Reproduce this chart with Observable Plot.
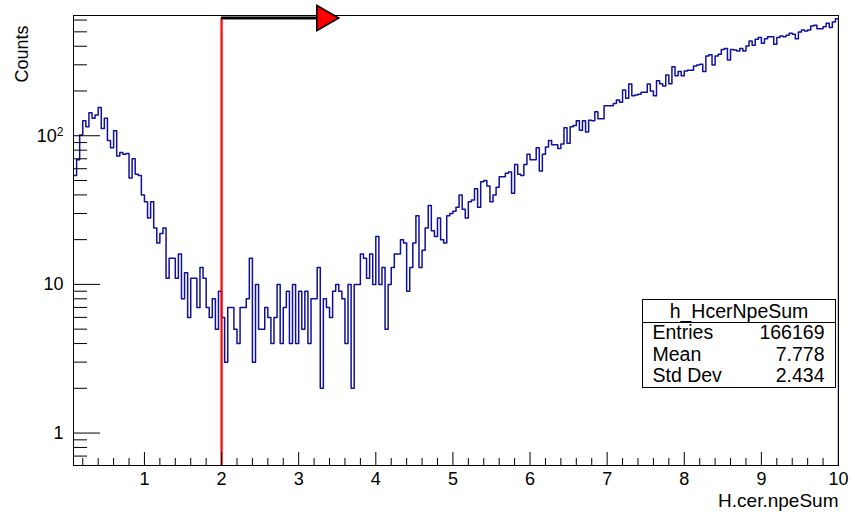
<!DOCTYPE html>
<html>
<head>
<meta charset="utf-8">
<script src="https://cdn.jsdelivr.net/npm/d3@7"></script>
<script src="https://cdn.jsdelivr.net/npm/@observablehq/plot@0.6"></script>
<style>
  html, body { margin: 0; padding: 0; background: #ffffff; }
  #chart { width: 855px; height: 512px; }
</style>
</head>
<body>
<div id="chart"></div>
<script>
// ---- data (h_HcerNpeSum) ----
const histName = "h_HcerNpeSum";
const xTitle = "H.cer.npeSum";
const yTitle = "Counts";
const binStart = 0.08;   // first visible bin low edge
const binWidth = 0.04;
const xEnd = 10;
const counts = [
  54, 69, 101, 126, 115, 143, 131, 138, 155, 112,
  131, 93, 83, 108, 73, 77, 75, 76, 52, 70,
  55, 54, 40, 36, 28, 36, 24, 19, 22, 24,
  11, 15, 15, 11, 16, 8, 12, 6, 11, 11,
  7, 13, 11, 7, 6, 8, 5, 9, 6, 3,
  7, 7, 5, 4, 7, 7, 8, 15, 3, 10,
  5, 5, 7, 6, 4, 6, 10, 4, 7, 9,
  4, 10, 4, 9, 5, 9, 4, 8, 8, 13,
  2, 8, 7, 6, 9, 10, 9, 8, 4, 10,
  2, 10, 10, 16, 15, 11, 16, 10, 21, 10,
  13, 5, 10, 13, 16, 16, 20, 19, 9, 13,
  19, 29, 13, 17, 24, 34, 23, 21, 28, 20,
  19, 29, 30, 31, 33, 40, 32, 28, 36, 37,
  44, 33, 49, 50, 46, 36, 40, 45, 53, 53,
  56, 57, 41, 64, 55, 54, 64, 75, 69, 69,
  83, 58, 75, 84, 93, 87, 87, 82, 88, 113,
  89, 115, 117, 126, 109, 126, 106, 127, 126, 145,
  130, 130, 159, 159, 159, 165, 174, 168, 203, 179,
  223, 186, 188, 190, 196, 196, 223, 200, 186, 234,
  224, 216, 256, 224, 291, 253, 270, 253, 273, 276,
  276, 295, 299, 303, 270, 344, 350, 299, 344, 353,
  381, 386, 323, 381, 378, 372, 386, 372, 402, 434,
  406, 446, 458, 419, 450, 464, 464, 412, 458, 469,
  464, 474, 489, 482, 450, 499, 514, 507, 514, 548,
  553, 525, 525, 542, 571, 534, 582, 613
];
const yMin = 0.605;
const yMax = 644;
const cutX = 2;          // red cut line
const arrowEnd = 3.33;   // arrow head centre
const arrowY = 620;
const xMajor = [1, 2, 3, 4, 5, 6, 7, 8, 9, 10];
const xMinor = [0.2,0.4,0.6,0.8,1.2,1.4,1.6,1.8,2.2,2.4,2.6,2.8,3.2,3.4,3.6,3.8,4.2,4.4,4.6,4.8,
                5.2,5.4,5.6,5.8,6.2,6.4,6.6,6.8,7.2,7.4,7.6,7.8,8.2,8.4,8.6,8.8,9.2,9.4,9.6,9.8];
const yMajor = [1, 10, 100];
const yMinor = [0.7, 0.8, 0.9, 2, 3, 4, 5, 6, 7, 8, 9, 20, 30, 40, 50, 60, 70, 80, 90, 200, 300, 400, 500, 600];
const statLabels = ["Entries", "Mean", "Std Dev"];
const statValues = ["166169", "7.778", "2.434"];

// ---- build the step outline ----
const hist = counts.map((c, i) => ({x: binStart + i * binWidth, y: c}));
hist.push({x: xEnd, y: counts[counts.length - 1]});
hist.push({x: xEnd, y: yMin});

const font = "'Liberation Sans', Arial, Helvetica, sans-serif";
const yFmt = d => d === 100 ? "10^2" : String(d);

const svg = Plot.plot({
  width: 855,
  height: 512,
  marginLeft: 73,
  marginRight: 17,
  marginTop: 15,
  marginBottom: 47,
  style: {fontFamily: font, fontSize: "18px", background: "#ffffff", color: "#000"},
  x: {domain: [binStart, xEnd]},
  y: {type: "log", domain: [yMin, yMax]},
  marks: [
    Plot.frame({stroke: "#000", strokeWidth: 1}),
    Plot.line(hist, {x: "x", y: "y", curve: "step-after", stroke: "#10109e", strokeWidth: 1.5, clip: true}),
    Plot.ruleX([cutX], {y1: yMin, y2: arrowY, stroke: "#ff0000", strokeWidth: 2.2}),
    Plot.ruleY([arrowY], {x1: cutX, x2: arrowEnd, stroke: "#000", strokeWidth: 3}),
    Plot.dot([arrowEnd], {x: d => d, y: () => arrowY, symbol: "triangle", r: 9.4, rotate: 90, fill: "#ff0000", stroke: "#000", strokeWidth: 1.6}),
    // left axis line redrawn on top
    Plot.ruleX([binStart], {y1: yMin, y2: yMax, stroke: "#000", strokeWidth: 1}),
    // x axis ticks (inside) and labels
    Plot.axisX(xMajor, {anchor: "bottom", tickSize: -13, tickFormat: () => "", label: null}),
    Plot.axisX(xMinor, {anchor: "bottom", tickSize: -7, tickFormat: () => "", label: null}),
    Plot.axisX(xMajor, {anchor: "bottom", tickSize: 0, tickPadding: 7, tickFormat: d => String(d), label: null}),
    // y axis ticks (inside) and labels
    Plot.axisY(yMajor, {anchor: "left", tickSize: -27, tickFormat: () => "", label: null}),
    Plot.axisY(yMinor, {anchor: "left", tickSize: -14, tickFormat: () => "", label: null}),
    Plot.axisY(yMajor, {anchor: "left", tickSize: 0, tickPadding: 10, tickFormat: yFmt, label: null}),
    // axis titles
    Plot.text([yTitle], {frameAnchor: "top-left", text: d => d, rotate: -90, textAnchor: "end", dx: -58, dy: 10, fontSize: 18}),
    Plot.text([xTitle], {frameAnchor: "bottom-right", text: d => d, textAnchor: "end", lineAnchor: "bottom", dy: 41, fontSize: 19})
  ]
});

// superscript exponent for the 10^2 tick label
d3.select(svg).selectAll("text").filter(function() { return this.textContent === "10^2"; })
  .each(function() {
    const t = d3.select(this);
    t.text("10");
    t.append("tspan").attr("dy", "-0.5em").attr("font-size", "12px").text("2");
  });

// ---- statistics box ----
const g = d3.select(svg).append("g").attr("font-family", font).attr("font-size", 19.5).attr("fill", "#000");
const bx = 642.5, by = 299.5, bw = 193, bh = 88, rowH = 21.5, headH = 23;
g.append("rect").attr("x", bx).attr("y", by).attr("width", bw).attr("height", bh)
  .attr("fill", "#fff").attr("stroke", "#000").attr("stroke-width", 1);
g.append("line").attr("x1", bx).attr("x2", bx + bw).attr("y1", by + headH).attr("y2", by + headH)
  .attr("stroke", "#000").attr("stroke-width", 1);
g.append("text").attr("x", bx + bw / 2).attr("y", by + headH - 5).attr("text-anchor", "middle").text(histName);
statLabels.forEach((lab, i) => {
  const yy = by + headH + rowH * (i + 1) - 5;
  g.append("text").attr("x", bx + 10).attr("y", yy).attr("text-anchor", "start").text(lab);
  g.append("text").attr("x", bx + bw - 11).attr("y", yy).attr("text-anchor", "end").text(statValues[i]);
});

document.getElementById("chart").appendChild(svg);
</script>
</body>
</html>
